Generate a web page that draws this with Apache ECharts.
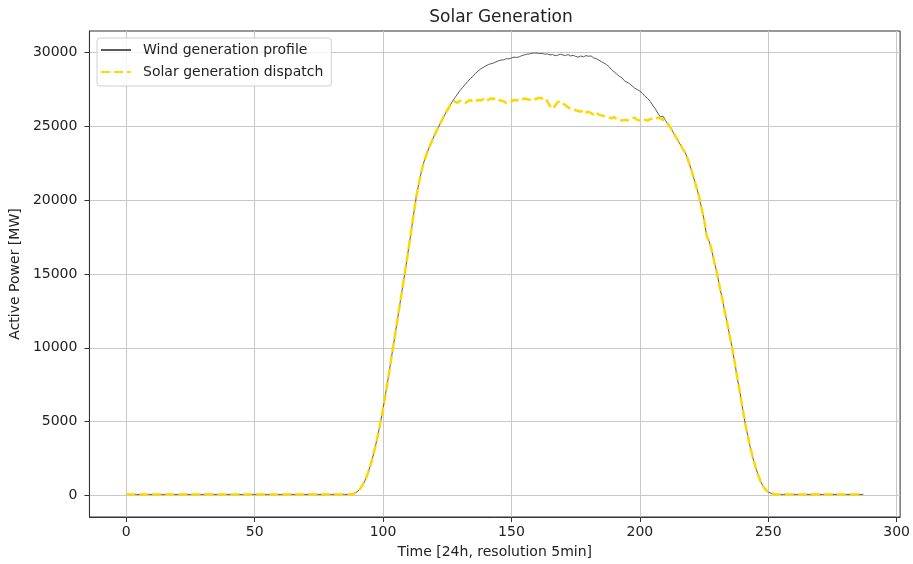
<!DOCTYPE html>
<html>
<head>
<meta charset="utf-8">
<script src="https://cdn.jsdelivr.net/npm/echarts@6/dist/echarts.min.js"></script>
<style>
  html, body { margin: 0; padding: 0; background: #fff; }
  #chart { width: 913px; height: 564px; }
</style>
</head>
<body>
<div id="chart"></div>
<script>
// tick labels
const xTicks = [0, 50, 100, 150, 200, 250, 300]
const yTicks = [0, 5000, 10000, 15000, 20000, 25000, 30000]

// wind profile, one value per 5 min step (288 steps)
const windProfile = [
  60, 60, 60, 60, 60, 60, 60, 60, 60, 60, 60, 60, 60, 60, 60, 60, 60, 60, 60, 60,
  60, 60, 60, 60, 60, 60, 60, 60, 60, 60, 60, 60, 60, 60, 60, 60, 60, 60, 60, 60,
  60, 60, 60, 60, 60, 60, 60, 60, 60, 60, 60, 60, 60, 60, 60, 60, 60, 60, 60, 60,
  60, 60, 60, 60, 60, 60, 60, 60, 60, 60, 60, 60, 60, 60, 60, 60, 60, 60, 60, 60,
  60, 60, 60, 60, 60, 60, 60, 60,
  80, 140, 250, 420, 680, 1020, 1450, 1980, 2600, 3300, 4100, 4950,
  5850, 6900, 7950, 9050, 10150, 11250, 12350, 13450, 14550, 15650,
  16800, 17950, 19150, 20300, 21200, 22000, 22650, 23150, 23600, 24000,
  24400, 24750, 25100, 25450, 25800, 26100, 26400, 26700, 26950, 27200,
  27450, 27650, 27850, 28050, 28250, 28400, 28600, 28750, 28900, 29000,
  29100, 29200, 29250, 29300, 29380, 29450, 29500, 29520, 29600, 29580,
  29650, 29700, 29680, 29720, 29800, 29850, 29900, 29920, 29960, 29980,
  29970, 29950, 29950, 29900, 29920, 29850, 29880, 29800, 29830, 29900,
  29850, 29800, 29880, 29780, 29820, 29750, 29700, 29780, 29720, 29800,
  29760, 29780, 29650, 29600, 29500, 29400, 29300, 29200, 29050, 28850,
  28700, 28550, 28400, 28300, 28100, 28000, 27900, 27750, 27600, 27500,
  27400, 27250, 27050, 26900, 26700, 26450, 26200, 25900, 25650, 25700,
  25400, 25150, 24900, 24600, 24300, 24000, 23700, 23400, 23100, 22600,
  22100, 21500, 20900, 20300, 19500, 18700, 17600, 17200, 16600, 15800,
  15100, 14200, 13400, 12500, 11700, 10800, 9950, 8950, 7900, 6950,
  5900, 4900, 4050, 3250, 2550, 1950, 1400, 950, 600, 380,
  230, 140, 90,
  60, 60, 60, 60, 60, 60, 60, 60, 60, 60, 60, 60, 60, 60, 60, 60, 60, 60, 60, 60,
  60, 60, 60, 60, 60, 60, 60, 60, 60, 60, 60, 60, 60, 60, 60
]

// solar dispatch, one value per 5 min step (288 steps)
const solarDispatch = [
  60, 60, 60, 60, 60, 60, 60, 60, 60, 60, 60, 60, 60, 60, 60, 60, 60, 60, 60, 60,
  60, 60, 60, 60, 60, 60, 60, 60, 60, 60, 60, 60, 60, 60, 60, 60, 60, 60, 60, 60,
  60, 60, 60, 60, 60, 60, 60, 60, 60, 60, 60, 60, 60, 60, 60, 60, 60, 60, 60, 60,
  60, 60, 60, 60, 60, 60, 60, 60, 60, 60, 60, 60, 60, 60, 60, 60, 60, 60, 60, 60,
  60, 60, 60, 60, 60, 60, 60, 60,
  80, 140, 250, 420, 680, 1020, 1450, 1980, 2600, 3300, 4100, 4950,
  5850, 6900, 7950, 9050, 10150, 11250, 12350, 13450, 14550, 15650,
  16800, 17950, 19150, 20300, 21200, 22000, 22650, 23150, 23600, 24000,
  24400, 24750, 25100, 25450, 25800, 26100, 26400, 26600, 26700, 26600,
  26750, 26650, 26600, 26700, 26800, 26650, 26700, 26800, 26750, 26850,
  26700, 26800, 26900, 26850, 26950, 26800, 26750, 26700, 26600, 26650,
  26700, 26800, 26750, 26850, 26800, 26900, 26850, 26800, 26900, 26850,
  26900, 26950, 26900, 26950, 26700, 26400, 26200, 26400, 26650, 26700,
  26550, 26450, 26300, 26200, 26150, 26100, 26050, 26000, 26100, 25950,
  26000, 25900, 25800, 25950, 25800, 25750, 25700, 25650, 25600, 25550,
  25650, 25500, 25450, 25400, 25450, 25400, 25500, 25550, 25600, 25450,
  25400, 25500, 25450, 25400, 25500, 25550, 25500, 25600, 25550, 25450,
  25400, 25150, 24900, 24600, 24300, 24000, 23700, 23400, 23100, 22600,
  22100, 21500, 20900, 20300, 19500, 18700, 17600, 17200, 16600, 15800,
  15100, 14200, 13400, 12500, 11700, 10800, 9950, 8950, 7900, 6950,
  5900, 4900, 4050, 3250, 2550, 1950, 1400, 950, 600, 380,
  230, 140, 90,
  60, 60, 60, 60, 60, 60, 60, 60, 60, 60, 60, 60, 60, 60, 60, 60, 60, 60, 60, 60,
  60, 60, 60, 60, 60, 60, 60, 60, 60, 60, 60, 60, 60, 60, 60
]

const font = 'DejaVu Sans'
const textColor = '#222'

const chart = echarts.init(document.getElementById('chart'))

chart.setOption({
  backgroundColor: '#fff',
  animation: false,
  textStyle: { fontFamily: font },
  title: {
    text: 'Solar Generation',
    left: 496,
    top: 4,
    textAlign: 'center',
    textStyle: { fontFamily: font, fontSize: 17, fontWeight: 'normal', color: textColor }
  },
  legend: {
    orient: 'vertical',
    left: 97,
    top: 38,
    padding: [5, 8, 7, 3],
    itemWidth: 30,
    itemHeight: 14,
    itemGap: 8,
    backgroundColor: 'rgba(255,255,255,0.8)',
    borderColor: '#d0d0d0',
    borderWidth: 1,
    borderRadius: 3,
    itemStyle: { opacity: 0 },
    textStyle: { fontFamily: font, fontSize: 14, color: textColor, padding: [0, 0, 0, 7] },
    data: ['Wind generation profile', 'Solar generation dispatch']
  },
  grid: {
    left: 89,
    right: 11,
    top: 31,
    bottom: 47,
    show: true,
    borderColor: '#333',
    borderWidth: 1,
    containLabel: false
  },
  xAxis: {
    type: 'value',
    min: -14.35,
    max: 301.35,
    name: 'Time [24h, resolution 5min]',
    nameLocation: 'middle',
    nameGap: 28,
    nameTextStyle: { fontFamily: font, fontSize: 14, color: textColor },
    axisLine: { show: true, onZero: false, lineStyle: { color: '#333', width: 1 } },
    axisTick: { show: true, length: 5, lineStyle: { color: '#333' }, customValues: xTicks },
    axisLabel: { customValues: xTicks, fontFamily: font, fontSize: 14, color: textColor, margin: 8 },
    splitLine: { show: true, lineStyle: { color: '#c8c8c8', width: 1 } }
  },
  yAxis: {
    type: 'value',
    min: -1472,
    max: 31472,
    name: 'Active Power [MW]',
    nameLocation: 'middle',
    nameGap: 64,
    nameTextStyle: { fontFamily: font, fontSize: 14, color: textColor },
    axisLine: { show: true, onZero: false, lineStyle: { color: '#333', width: 1 } },
    axisTick: { show: true, length: 5, lineStyle: { color: '#333' }, customValues: yTicks },
    axisLabel: {
      customValues: yTicks,
      formatter: (v) => String(v),
      fontFamily: font,
      fontSize: 14,
      color: textColor,
      margin: 12
    },
    splitLine: { show: true, lineStyle: { color: '#c8c8c8', width: 1 } }
  },
  series: [
    {
      name: 'Wind generation profile',
      type: 'line',
      symbol: 'none',
      color: '#5a5a5a',
      lineStyle: { color: '#5a5a5a', width: 1 },
      data: windProfile.map((v, i) => [i, v])
    },
    {
      name: 'Solar generation dispatch',
      type: 'line',
      symbol: 'none',
      color: '#FFD700',
      lineStyle: { color: '#FFD700', width: 2.5, type: [9, 4] },
      data: solarDispatch.map((v, i) => [i, v])
    }
  ]
})
</script>
</body>
</html>
